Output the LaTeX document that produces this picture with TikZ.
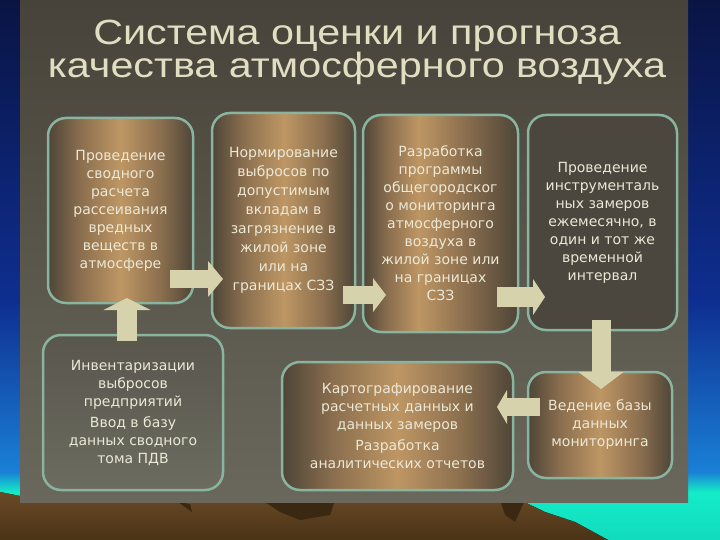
\documentclass[tikz,border=0pt]{standalone}
\usepackage{fontspec}
\setmainfont{DejaVu Sans}
\newfontfamily\titlefont{Liberation Sans}
\usetikzlibrary{arrows.meta,calc}
\definecolor{navy}{HTML}{0A1444}
\definecolor{navymid}{HTML}{0E2E90}
\definecolor{blueb}{HTML}{1A80D6}
\definecolor{cyanb}{HTML}{14ECC8}
\definecolor{paneltop}{HTML}{47433A}
\definecolor{panelbot}{HTML}{6A685C}
\definecolor{groundtop}{HTML}{6A4A26}
\definecolor{groundbot}{HTML}{4A3216}
\definecolor{grounddark}{HTML}{3A2812}
\definecolor{bordc}{HTML}{88B4A0}
\definecolor{txtc}{HTML}{ECE8D6}
\definecolor{titlec}{HTML}{E2DEC2}
\definecolor{arrowc}{HTML}{D6D3AC}
\definecolor{bdark}{HTML}{4E4538}
\definecolor{bmid}{HTML}{8A6E4E}
\definecolor{blight}{HTML}{BE9664}
\definecolor{greybox}{HTML}{4B473E}
\pgfdeclarehorizontalshading{warmsh}{100bp}{color(0bp)=(bdark); color(25bp)=(bdark);
  color(36bp)=(bmid); color(50bp)=(blight); color(64bp)=(bmid); color(75bp)=(bdark); color(100bp)=(bdark)}
\pgfdeclarehorizontalshading{leftsh}{100bp}{color(0bp)=(bdark); color(25bp)=(bdark);
  color(33bp)=(bmid); color(43bp)=(blight); color(58bp)=(bmid); color(75bp)=(bdark); color(100bp)=(bdark)}
\begin{document}
\begin{tikzpicture}[x=1pt,y=-1pt,
  box/.style={draw=bordc, line width=2.5pt, rounded corners=18pt, align=center,
    text=txtc, font=\fontsize{14}{18}\selectfont, inner sep=0pt},
  warm/.style={shading=warmsh},
  barrow/.style={draw=arrowc, line cap=butt},
  titletext/.style={font=\titlefont\fontsize{35}{33}\selectfont, anchor=base, text=titlec}]
\useasboundingbox (0,0) rectangle (720,540);
% background
\fill[top color=navy, bottom color=navymid] (0,0) rectangle (720,300);
\fill[top color=navymid, bottom color=blueb] (0,300) rectangle (720,472);
\fill[top color=blueb, bottom color=cyanb] (0,472) rectangle (720,492);
\fill[top color=cyanb, bottom color=cyanb!85!teal] (0,492) rectangle (720,540);
% ground
\fill[top color=groundtop, bottom color=groundbot]
  (0,492) -- (20,496) -- (520,500) -- (545,512) -- (575,522) -- (608,540) -- (0,540) -- cycle;
\fill[grounddark] (265,502) -- (335,500) -- (330,515) -- (300,520) -- (280,512) -- cycle;
\fill[grounddark] (500,500) -- (525,500) -- (515,522) -- (505,515) -- cycle;
\fill[grounddark] (178,502) -- (190,504) -- (192,512) -- cycle;
% panel
\fill[top color=paneltop, bottom color=panelbot] (20,0) rectangle (688,502);
% title
\node[titletext] (t1) at (357,45) {\scalebox{1.18}[1]{Система оценки и прогноза}};
\node[titletext] (t2) at (357,78) {\scalebox{1.18}[1]{качества атмосферного воздуха}};
% boxes
\node[box, warm, minimum width=145pt, minimum height=185pt] (b1) at (120.5,210.5)
  {Проведение\\сводного\\расчета\\рассеивания\\вредных\\веществ в\\атмосфере};
\node[box, warm, minimum width=143pt, minimum height=215pt,
  font=\fontsize{14}{19}\selectfont] (b2) at (283.5,220.5)
  {Нормирование\\выбросов по\\допустимым\\вкладам в\\загрязнение в\\жилой зоне\\или на\\границах СЗЗ};
\node[box, shading=leftsh, minimum width=155pt, minimum height=217pt] (b3) at (440.5,223.5)
  {Разработка\\программы\\общегородског\\о мониторинга\\атмосферного\\воздуха в\\жилой зоне или\\на границах\\СЗЗ};
\node[box, fill=greybox, minimum width=149pt, minimum height=215pt] (b4) at (602.5,222.5)
  {Проведение\\инструменталь\\ных замеров\\ежемесячно, в\\один и тот же\\временной\\интервал};
\node[box, top color=paneltop!90!white, bottom color=panelbot!95!bordc, minimum width=180pt, minimum height=155pt] (b5) at (133,412.5)
  {Инвентаризации\\выбросов\\предприятий\\[3pt]Ввод в базу\\данных сводного\\тома ПДВ};
\node[box, warm, minimum width=231pt, minimum height=128pt] (b6) at (397.5,426)
  {Картографирование\\расчетных данных и\\данных замеров\\[3pt]Разработка\\аналитических отчетов};
\node[box, warm, minimum width=144pt, minimum height=106pt] (b7) at (600,425)
  {Ведение базы\\данных\\мониторинга};
% arrow end points
\coordinate (a1s) at (170,279);  \coordinate (a1e) at (223,279);
\coordinate (a2s) at (343,295);  \coordinate (a2e) at (386,295);
\coordinate (a3s) at (497,297);  \coordinate (a3e) at (545,297);
\coordinate (a4s) at (601,320);  \coordinate (a4e) at (601,389);
\coordinate (a5s) at (540,407);  \coordinate (a5e) at (497,407);
\coordinate (a6s) at (127,341);  \coordinate (a6e) at (127,298);
% block arrows
\draw[barrow, line width=18pt, -{Triangle[length=15pt,width=36pt,line width=0pt]}] (a1s) -- (a1e);
\draw[barrow, line width=18pt, -{Triangle[length=13pt,width=34pt,line width=0pt]}] (a2s) -- (a2e);
\draw[barrow, line width=20pt, -{Triangle[length=12pt,width=36pt,line width=0pt]}] (a3s) -- (a3e);
\draw[barrow, line width=19pt, -{Triangle[length=17pt,width=45pt,line width=0pt]}] (a4s) -- (a4e);
\draw[barrow, line width=18pt, -{Triangle[length=10pt,width=34pt,line width=0pt]}] (a5s) -- (a5e);
\draw[barrow, line width=20pt, -{Triangle[length=12pt,width=47pt,line width=0pt]}] (a6s) -- (a6e);
\end{tikzpicture}
\end{document}
